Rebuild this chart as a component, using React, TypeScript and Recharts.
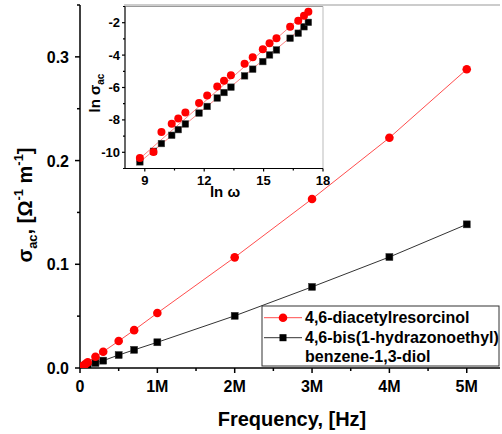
import React from 'react';
import { ComposedChart, Line, Scatter, XAxis, YAxis, ReferenceLine } from 'recharts';

// ---------- main chart data ----------
const frequencies = [1e3, 2e3, 3e3, 5e3, 7e3, 1e4, 2e4, 3e4, 5e4, 7e4, 1e5, 2e5, 3e5, 5e5, 7e5, 1e6, 2e6, 3e6, 4e6, 5e6];
const sigmaDAR = [0.00003, 0.00005, 0.00016, 0.00027, 0.00037, 0.00053, 0.00095, 0.0015, 0.0026, 0.0037, 0.0054, 0.0108, 0.0157, 0.026, 0.0365, 0.053, 0.1067, 0.163, 0.222, 0.288];
const sigmaBHE = [0.000025, 0.00005, 0.00008, 0.00013, 0.00018, 0.00026, 0.0005, 0.00077, 0.0013, 0.0018, 0.0026, 0.0048, 0.0071, 0.0125, 0.0175, 0.0248, 0.0503, 0.0782, 0.107, 0.1385];
const mainXTicks = [0, 500000, 1000000, 1500000, 2000000, 2500000, 3000000, 3500000, 4000000, 4500000, 5000000];
const mainXMajor = [0, 1000000, 2000000, 3000000, 4000000, 5000000];
const mainXLabels = ['0', '1M', '2M', '3M', '4M', '5M'];
const mainYTicks = [0, 0.05, 0.1, 0.15, 0.2, 0.25, 0.3, 0.35];
const mainYMajor = [0, 0.1, 0.2, 0.3];
const mainYLabels = ['0.0', '0.1', '0.2', '0.3'];
const seriesNames = ['4,6-diacetylresorcinol', '4,6-bis(1-hydrazonoethyl)', 'benzene-1,3-diol'];

// ---------- inset data ----------
const lnOmega = [8.75, 9.44, 9.84, 10.36, 10.69, 11.05, 11.74, 12.15, 12.66, 13.0, 13.35, 14.04, 14.45, 14.96, 15.3, 15.65, 16.34, 16.75, 17.04, 17.26];
const lnSigmaDAR = [-10.35, -9.98, -8.74, -8.23, -7.91, -7.54, -6.96, -6.49, -5.94, -5.59, -5.24, -4.54, -4.13, -3.64, -3.27, -2.96, -2.25, -1.88, -1.57, -1.32];
const lnSigmaBHE = [-10.59, -9.94, -9.46, -8.95, -8.6, -8.25, -7.58, -7.17, -6.65, -6.31, -5.98, -5.28, -4.87, -4.4, -3.99, -3.68, -2.96, -2.65, -2.25, -1.98];
const fitDARx = [8.55, 17.4];
const fitDARy = [-10.6, -1.1];
const fitBHEx = [8.6, 17.35];
const fitBHEy = [-10.75, -1.9];
const insetXTicks = [9, 10.5, 12, 13.5, 15, 16.5, 18];
const insetXMajor = [9, 12, 15, 18];
const insetYTicks = [-11, -10, -9, -8, -7, -6, -5, -4, -3, -2, -1];
const insetYMajor = [-10, -8, -6, -4, -2];

const mainData = frequencies.map((f, i) => ({ f, dar: sigmaDAR[i], bhe: sigmaBHE[i] }));
const insetDAR = lnOmega.map((x, i) => ({ x, y: lnSigmaDAR[i] }));
const insetBHE = lnOmega.map((x, i) => ({ x, y: lnSigmaBHE[i] }));
const fitDAR = fitDARx.map((x, i) => ({ x, y: fitDARy[i] }));
const fitBHE = fitBHEx.map((x, i) => ({ x, y: fitBHEy[i] }));

const FONT = '"Liberation Sans", Arial, sans-serif';
const RED = '#ff0000';
const RED_LINE = '#ff4d4d';

const near = (a: number, b: number) => Math.abs(a - b) < 1e-9 * Math.max(1, Math.abs(b));

const MainXTick = (props: any) => {
  const { x, y, payload } = props;
  const v = payload.value;
  const idx = mainXMajor.findIndex((m) => near(m, v));
  const major = idx >= 0;
  return (
    <g>
      <line x1={x} x2={x} y1={y} y2={y + (major ? 5 : 3)} stroke="#000" strokeWidth={1.5} />
      {major && (
        <text x={x} y={y + 24} textAnchor="middle" fontFamily={FONT} fontWeight="bold" fontSize={16} fill="#000">
          {mainXLabels[idx]}
        </text>
      )}
    </g>
  );
};

const MainYTick = (props: any) => {
  const { x, y, payload } = props;
  const v = payload.value;
  const idx = mainYMajor.findIndex((m) => near(m, v));
  const major = idx >= 0;
  return (
    <g>
      <line x1={x} x2={x - (major ? 5 : 3)} y1={y} y2={y} stroke="#000" strokeWidth={1.5} />
      {major && (
        <text x={x - 11} y={y + 6} textAnchor="end" fontFamily={FONT} fontWeight="bold" fontSize={16} fill="#000">
          {mainYLabels[idx]}
        </text>
      )}
    </g>
  );
};

const InsetXTick = (props: any) => {
  const { x, y, payload } = props;
  const v = payload.value;
  const major = insetXMajor.some((m) => near(m, v));
  return (
    <g>
      <line x1={x} x2={x} y1={y} y2={y + (major ? 3 : 2)} stroke="#000" strokeWidth={1.2} />
      {major && (
        <text x={x} y={y + 16} textAnchor="middle" fontFamily={FONT} fontWeight="bold" fontSize={13} fill="#000">
          {String(v)}
        </text>
      )}
    </g>
  );
};

const InsetYTick = (props: any) => {
  const { x, y, payload } = props;
  const v = payload.value;
  const major = insetYMajor.some((m) => near(m, v));
  return (
    <g>
      <line x1={x} x2={x - (major ? 3 : 2)} y1={y} y2={y} stroke="#000" strokeWidth={1.2} />
      {major && (
        <text x={x - 5} y={y + 4.5} textAnchor="end" fontFamily={FONT} fontWeight="bold" fontSize={13} fill="#000">
          {String(v)}
        </text>
      )}
    </g>
  );
};

const MainXTitle = () => (
  <text x={292} y={426} textAnchor="middle" fontFamily={FONT} fontWeight="bold" fontSize={20} fill="#000">
    Frequency, [Hz]
  </text>
);

const MainYTitle = () => (
  <text transform="translate(32,205) rotate(-90)" textAnchor="middle" fontFamily={FONT} fontWeight="bold" fontSize={20} fill="#000">
    <tspan>σ</tspan>
    <tspan fontSize={13} dy={5}>ac</tspan>
    <tspan dy={-5}>, [Ω</tspan>
    <tspan fontSize={13} dy={-9}>-1</tspan>
    <tspan dy={9}> m</tspan>
    <tspan fontSize={13} dy={-9}>-1</tspan>
    <tspan dy={9}>]</tspan>
  </text>
);

const InsetXTitle = () => (
  <text x={145} y={197} textAnchor="middle" fontFamily={FONT} fontWeight="bold" fontSize={15} fill="#000">
    ln ω
  </text>
);

const InsetYTitle = () => (
  <text transform="translate(20,93) rotate(-90)" textAnchor="middle" fontFamily={FONT} fontWeight="bold" fontSize={15} fill="#000">
    <tspan>ln σ</tspan>
    <tspan fontSize={10} dy={4}>ac</tspan>
  </text>
);

const circleDot = (r: number) => (props: any) => {
  const { cx, cy, index } = props;
  if (cx == null || cy == null) return <g key={`c${index}`} />;
  return <circle key={`c${index}`} cx={cx} cy={cy} r={r} fill={RED} stroke="none" />;
};

const squareDot = (s: number) => (props: any) => {
  const { cx, cy, index } = props;
  if (cx == null || cy == null) return <g key={`s${index}`} />;
  return <rect key={`s${index}`} x={cx - s / 2} y={cy - s / 2} width={s} height={s} fill="#000" stroke="#333" strokeWidth={0.5} />;
};

const LegendBox = () => (
  <svg width={240} height={62} style={{ position: 'absolute', left: 261, top: 305 }}>
    <rect x={1} y={1} width={237} height={60} fill="#fff" stroke="#333" strokeWidth={1} />
    <line x1={3} x2={41} y1={12.7} y2={12.7} stroke={RED_LINE} strokeWidth={1} />
    <circle cx={22} cy={12.7} r={4.3} fill={RED} />
    <line x1={3} x2={41} y1={32.7} y2={32.7} stroke="#333" strokeWidth={1} />
    <rect x={18.5} y={29.2} width={7} height={7} fill="#000" />
    <text x={44} y={17.5} fontFamily={FONT} fontWeight="bold" fontSize={16} fill="#000">{seriesNames[0]}</text>
    <text x={44} y={37.5} fontFamily={FONT} fontWeight="bold" fontSize={16} fill="#000">{seriesNames[1]}</text>
    <text x={44} y={56.5} fontFamily={FONT} fontWeight="bold" fontSize={16} fill="#000">{seriesNames[2]}</text>
  </svg>
);

export default function App() {
  return (
    <div style={{ position: 'absolute', left: 0, top: 0, width: 502, height: 434, background: '#fff', overflow: 'hidden' }}>
      <ComposedChart width={502} height={434} data={mainData} margin={{ top: 5, right: 2, bottom: 0, left: 0 }}>
        <XAxis
          type="number"
          dataKey="f"
          domain={[0, 5430000]}
          ticks={mainXTicks}
          interval={0}
          tickLine={false}
          tickSize={0}
          tickMargin={0}
          tick={<MainXTick />}
          height={66}
          axisLine={{ stroke: '#000', strokeWidth: 1.5 }}
          allowDataOverflow
          label={<MainXTitle />}
        />
        <YAxis
          type="number"
          domain={[0, 0.35]}
          ticks={mainYTicks}
          interval={0}
          tickLine={false}
          tickSize={0}
          tickMargin={0}
          tick={<MainYTick />}
          width={80}
          axisLine={{ stroke: '#000', strokeWidth: 1.5 }}
          allowDataOverflow
          label={<MainYTitle />}
        />
        <ReferenceLine segment={[{ x: 570000, y: 0.35 }, { x: 5430000, y: 0.35 }]} stroke="#999" strokeWidth={1} ifOverflow="visible" />
        <Line dataKey="bhe" stroke="#333" strokeWidth={1} dot={squareDot(7)} activeDot={false} isAnimationActive={false} />
        <Line dataKey="dar" stroke={RED_LINE} strokeWidth={1} dot={circleDot(4.3)} activeDot={false} isAnimationActive={false} />
      </ComposedChart>

      <div style={{ position: 'absolute', left: 80, top: 0, width: 250, height: 205 }}>
        <ComposedChart width={250} height={205} margin={{ top: 6.5, right: 7, bottom: 0, left: 0 }}>
          <XAxis
            type="number"
            dataKey="x"
            domain={[8, 18]}
            ticks={insetXTicks}
            interval={0}
            tickLine={false}
            tickSize={0}
            tickMargin={0}
            tick={<InsetXTick />}
            height={36.5}
            axisLine={{ stroke: '#000', strokeWidth: 1.2 }}
            allowDataOverflow
            label={<InsetXTitle />}
          />
          <YAxis
            type="number"
            dataKey="y"
            domain={[-11, -1]}
            ticks={insetYTicks}
            interval={0}
            tickLine={false}
            tickSize={0}
            tickMargin={0}
            tick={<InsetYTick />}
            width={45}
            axisLine={{ stroke: '#000', strokeWidth: 1.2 }}
            allowDataOverflow
            label={<InsetYTitle />}
          />
          <ReferenceLine y={-1} stroke="#999" strokeWidth={1} />
          <ReferenceLine x={18} stroke="#bbb" strokeWidth={1} />
          <Line data={fitDAR} dataKey="y" stroke={RED_LINE} strokeOpacity={0.7} strokeWidth={1} dot={false} activeDot={false} isAnimationActive={false} />
          <Line data={fitBHE} dataKey="y" stroke={RED_LINE} strokeOpacity={0.7} strokeWidth={1} dot={false} activeDot={false} isAnimationActive={false} />
          <Scatter data={insetBHE} dataKey="y" isAnimationActive={false} shape={(p: any) => <rect x={p.cx - 3.3} y={p.cy - 3.3} width={6.6} height={6.6} fill="#000" stroke="#444" strokeWidth={0.5} />} />
          <Scatter data={insetDAR} dataKey="y" isAnimationActive={false} shape={(p: any) => <circle cx={p.cx} cy={p.cy} r={4} fill={RED} />} />
        </ComposedChart>
      </div>

      <LegendBox />
    </div>
  );
}
